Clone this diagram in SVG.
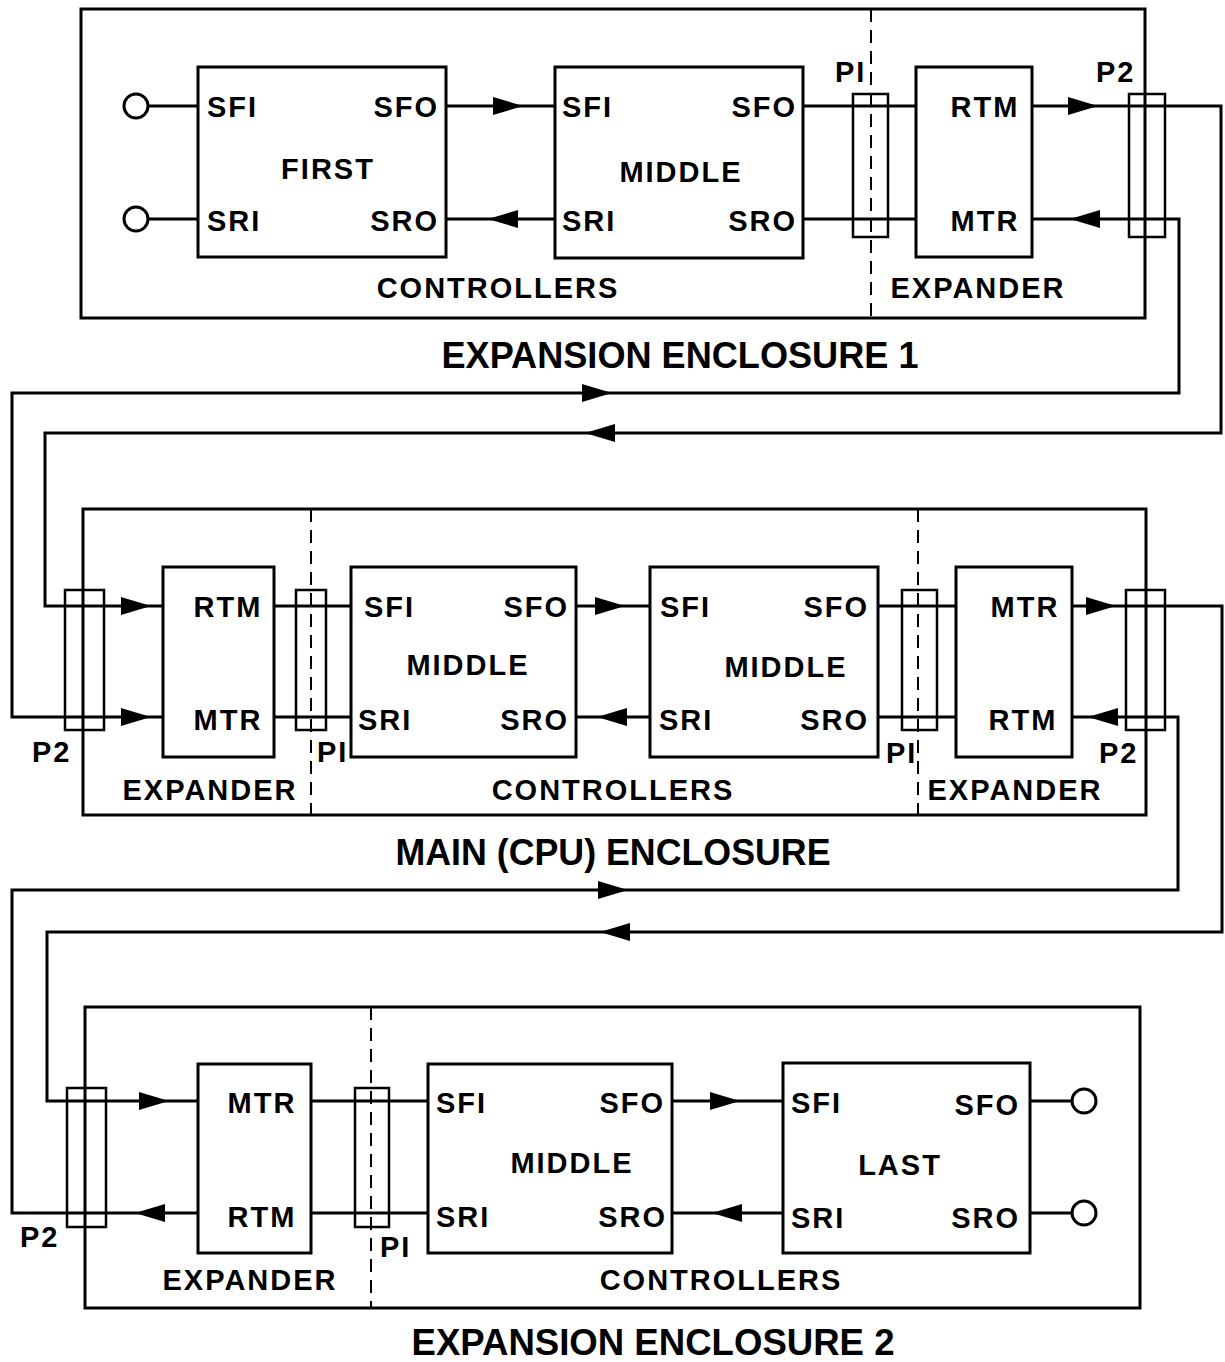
<svg xmlns="http://www.w3.org/2000/svg" xmlns:xlink="http://www.w3.org/1999/xlink" width="1225" height="1362" viewBox="0 0 1225 1362">
<style>
.enc{fill:none;stroke:#000;stroke-width:3}
.box{fill:none;stroke:#000;stroke-width:3}
.pc{fill:none;stroke:#000;stroke-width:2.5}
.dash{fill:none;stroke:#000;stroke-width:2;stroke-dasharray:13 8}
.w{fill:none;stroke:#000;stroke-width:3;stroke-linejoin:miter}
.ah{fill:#000;stroke:none}
.term{fill:#fff;stroke:#000;stroke-width:3}
text{font-family:"Liberation Sans",Arial,sans-serif;font-weight:bold;fill:#000}
.l{font-size:29px;letter-spacing:2px}
.t{font-size:36px;letter-spacing:0px}
.m{text-anchor:middle}
.e{text-anchor:end}
</style>
<defs>
<path id="aR" class="ah" d="M0,0 L-30,-9 L-30,9 Z"/>
<path id="aL" class="ah" d="M0,0 L30,-9 L30,9 Z"/>
</defs>

<g id="enclosure1">
<rect class="enc" x="81" y="9" width="1064" height="309"/>
<line class="dash" x1="871" y1="9" x2="871" y2="318"/>
<text class="l m" x="498" y="298">CONTROLLERS</text>
<text class="l m" x="978" y="298">EXPANDER</text>
<text class="t m" x="680" y="368" textLength="477" lengthAdjust="spacingAndGlyphs">EXPANSION ENCLOSURE 1</text>
</g>
<g id="first">
<rect class="box" x="198" y="67" width="248" height="190"/>
<text class="l" x="207" y="117">SFI</text>
<text class="l e" x="439" y="117">SFO</text>
<text class="l m" x="328" y="179">FIRST</text>
<text class="l" x="207" y="231">SRI</text>
<text class="l e" x="439" y="231">SRO</text>
</g>
<g id="middle1">
<rect class="box" x="555" y="67" width="248" height="191"/>
<text class="l" x="562" y="117">SFI</text>
<text class="l e" x="797" y="117">SFO</text>
<text class="l m" x="681" y="182">MIDDLE</text>
<text class="l" x="562" y="231">SRI</text>
<text class="l e" x="797" y="231">SRO</text>
</g>
<g id="expander1">
<rect class="box" x="916" y="67" width="116" height="190"/>
<text class="l m" x="985" y="117">RTM</text>
<text class="l m" x="985" y="231">MTR</text>
</g>
<g id="p1-enc1">
<rect class="pc" x="853" y="94" width="35" height="143"/>
<text class="l" x="835" y="82">PI</text>
</g>
<g id="p2-enc1">
<rect class="pc" x="1129" y="94" width="36" height="143"/>
<text class="l" x="1096" y="82">P2</text>
</g>

<g id="main-enclosure">
<rect class="enc" x="83" y="509" width="1063" height="306"/>
<line class="dash" x1="311" y1="509" x2="311" y2="815"/>
<line class="dash" x1="918" y1="509" x2="918" y2="815"/>
<text class="l m" x="210" y="800">EXPANDER</text>
<text class="l m" x="613" y="800">CONTROLLERS</text>
<text class="l m" x="1015" y="800">EXPANDER</text>
<text class="t m" x="613" y="865" textLength="435" lengthAdjust="spacingAndGlyphs">MAIN (CPU) ENCLOSURE</text>
</g>
<g id="expander-main-left">
<rect class="box" x="163" y="567" width="111" height="190"/>
<text class="l m" x="228" y="617">RTM</text>
<text class="l m" x="228" y="730">MTR</text>
</g>
<g id="middle-main-1">
<rect class="box" x="351" y="567" width="225" height="190"/>
<text class="l" x="364" y="617">SFI</text>
<text class="l e" x="569" y="617">SFO</text>
<text class="l m" x="468" y="675">MIDDLE</text>
<text class="l" x="358" y="730">SRI</text>
<text class="l e" x="569" y="730">SRO</text>
</g>
<g id="middle-main-2">
<rect class="box" x="650" y="567" width="228" height="190"/>
<text class="l" x="660" y="617">SFI</text>
<text class="l e" x="869" y="617">SFO</text>
<text class="l m" x="786" y="677">MIDDLE</text>
<text class="l" x="659" y="730">SRI</text>
<text class="l e" x="869" y="730">SRO</text>
</g>
<g id="expander-main-right">
<rect class="box" x="956" y="567" width="116" height="190"/>
<text class="l m" x="1025" y="617">MTR</text>
<text class="l m" x="1023" y="730">RTM</text>
</g>
<g id="p2-main-left">
<rect class="pc" x="65" y="590" width="39" height="140"/>
<text class="l" x="32" y="762">P2</text>
</g>
<g id="p1-main-left">
<rect class="pc" x="296" y="590" width="30" height="140"/>
<text class="l" x="317" y="762">PI</text>
</g>
<g id="p1-main-right">
<rect class="pc" x="902" y="590" width="35" height="140"/>
<text class="l" x="886" y="763">PI</text>
</g>
<g id="p2-main-right">
<rect class="pc" x="1126" y="590" width="39" height="140"/>
<text class="l" x="1099" y="763">P2</text>
</g>

<g id="enclosure2">
<rect class="enc" x="85" y="1007" width="1055" height="301"/>
<line class="dash" x1="371" y1="1007" x2="371" y2="1308"/>
<text class="l m" x="250" y="1290">EXPANDER</text>
<text class="l m" x="721" y="1290">CONTROLLERS</text>
<text class="t m" x="653" y="1355" textLength="483" lengthAdjust="spacingAndGlyphs">EXPANSION ENCLOSURE 2</text>
</g>
<g id="expander2">
<rect class="box" x="198" y="1064" width="113" height="189"/>
<text class="l m" x="262" y="1113">MTR</text>
<text class="l m" x="262" y="1227">RTM</text>
</g>
<g id="middle2">
<rect class="box" x="428" y="1064" width="244" height="189"/>
<text class="l" x="436" y="1113">SFI</text>
<text class="l e" x="665" y="1113">SFO</text>
<text class="l m" x="572" y="1173">MIDDLE</text>
<text class="l" x="436" y="1227">SRI</text>
<text class="l e" x="667" y="1227">SRO</text>
</g>
<g id="last">
<rect class="box" x="783" y="1063" width="247" height="190"/>
<text class="l" x="791" y="1113">SFI</text>
<text class="l e" x="1020" y="1115">SFO</text>
<text class="l m" x="900" y="1175">LAST</text>
<text class="l" x="791" y="1228">SRI</text>
<text class="l e" x="1020" y="1228">SRO</text>
</g>
<g id="p2-enc2">
<rect class="pc" x="67" y="1088" width="39" height="139"/>
<text class="l" x="20" y="1247">P2</text>
</g>
<g id="p1-enc2">
<rect class="pc" x="355" y="1088" width="34" height="139"/>
<text class="l" x="380" y="1257">PI</text>
</g>

<g id="connectors">
<line class="w" x1="148" y1="106" x2="198" y2="106"/>
<line class="w" x1="148" y1="219" x2="198" y2="219"/>
<circle class="term" cx="136" cy="106" r="12"/>
<circle class="term" cx="136" cy="219" r="12"/>
<line class="w" x1="446" y1="106" x2="555" y2="106"/>
<use xlink:href="#aR" x="523" y="106"/>
<line class="w" x1="446" y1="219" x2="555" y2="219"/>
<use xlink:href="#aL" x="488" y="219"/>
<line class="w" x1="803" y1="106" x2="916" y2="106"/>
<line class="w" x1="803" y1="219" x2="916" y2="219"/>
<polyline class="w" points="1032,106 1221,106 1221,433 45,433 45,606 163,606"/>
<use xlink:href="#aR" x="1098" y="106"/>
<use xlink:href="#aL" x="585" y="433"/>
<use xlink:href="#aR" x="151" y="606"/>
<polyline class="w" points="1032,219 1179,219 1179,393 12,393 12,717 163,717"/>
<use xlink:href="#aL" x="1070" y="219"/>
<use xlink:href="#aR" x="612" y="393"/>
<use xlink:href="#aR" x="151" y="717"/>
<line class="w" x1="274" y1="606" x2="351" y2="606"/>
<line class="w" x1="274" y1="717" x2="351" y2="717"/>
<line class="w" x1="576" y1="606" x2="650" y2="606"/>
<use xlink:href="#aR" x="625" y="606"/>
<line class="w" x1="576" y1="717" x2="650" y2="717"/>
<use xlink:href="#aL" x="597" y="717"/>
<line class="w" x1="878" y1="606" x2="956" y2="606"/>
<line class="w" x1="878" y1="717" x2="956" y2="717"/>
<polyline class="w" points="1072,606 1222,606 1222,932 47,932 47,1101 198,1101"/>
<use xlink:href="#aR" x="1116" y="606"/>
<use xlink:href="#aL" x="600" y="932"/>
<use xlink:href="#aR" x="169" y="1101"/>
<polyline class="w" points="1072,717 1178,717 1178,890 12,890 12,1213 198,1213"/>
<use xlink:href="#aL" x="1088" y="717"/>
<use xlink:href="#aR" x="628" y="890"/>
<use xlink:href="#aL" x="135" y="1213"/>
<line class="w" x1="311" y1="1101" x2="428" y2="1101"/>
<line class="w" x1="311" y1="1213" x2="428" y2="1213"/>
<line class="w" x1="672" y1="1101" x2="783" y2="1101"/>
<use xlink:href="#aR" x="740" y="1101"/>
<line class="w" x1="672" y1="1213" x2="783" y2="1213"/>
<use xlink:href="#aL" x="712" y="1213"/>
<line class="w" x1="1030" y1="1101" x2="1072" y2="1101"/>
<line class="w" x1="1030" y1="1213" x2="1072" y2="1213"/>
<circle class="term" cx="1084" cy="1101" r="12"/>
<circle class="term" cx="1084" cy="1213" r="12"/>
</g>
</svg>
